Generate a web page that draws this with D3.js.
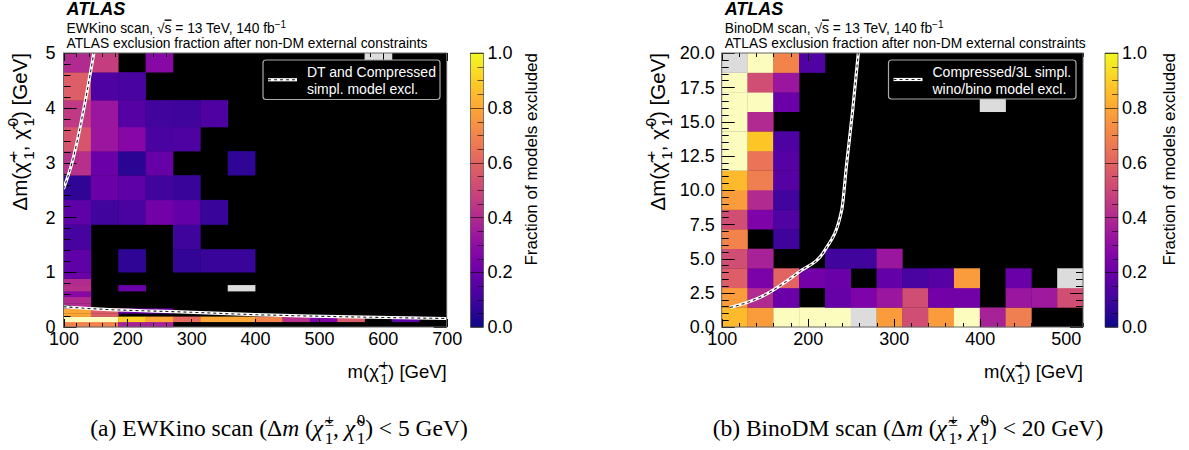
<!DOCTYPE html>
<html><head><meta charset="utf-8">
<script src="https://cdn.jsdelivr.net/npm/d3@7"></script>
<style>
body{margin:0;background:#fff;}
text{font-family:"Liberation Sans",Arial,sans-serif;}
</style></head>
<body>
<script>
// ---------- DATA ----------
const GRAY = -1; // light-grey cells
// Left: EWKino scan
const leftXEdges = [100,142.86,185.71,228.57,271.43,314.29,357.14,400,442.86,485.71,528.57,571.43,614.29,657.14,700];
const leftYEdges = [0,0.095,0.19,0.25,0.34,0.43,0.55,0.655,0.765,0.885,1.0,1.42,1.87,2.32,2.77,3.21,3.65,4.14,4.65,5.0];
// rows from bottom to top, 14 columns; null = no models (black)
const leftValues = [
 [0.70,0.70,0.37,0.37,null,null,null,null,null,null,null,null,null,null],
 [1,1,0.90,0.80,0.62,0.80,0.80,0.70,0.42,0.25,0.57,null,0.17,null],
 [0.80,0.58,null,null,null,null,null,null,null,null,null,null,null,null],
 [0.80,0.58,0.20,0.20,null,null,null,null,null,null,null,null,null,null],
 [0.40,null,null,null,null,null,null,null,null,null,null,null,null,null],
 [0.40,null,null,null,null,null,null,null,null,null,null,null,null,null],
 [0.28,null,null,null,null,null,null,null,null,null,null,null,null,null],
 [0.42,null,0.20,null,null,null,GRAY,null,null,null,null,null,null,null],
 [0.40,null,null,null,null,null,null,null,null,null,null,null,null,null],
 [0.20,null,null,null,null,null,null,null,null,null,null,null,null,null],
 [0.17,null,0.06,null,0.07,0.08,0.08,null,null,null,null,null,null,null],
 [0.11,null,null,null,0.09,null,null,null,null,null,null,null,null,null],
 [0.17,0.10,0.12,0.22,0.18,0.08,null,null,null,null,null,null,null,null],
 [0.06,0.20,0.17,0.10,0.08,null,null,null,null,null,null,null,null,null],
 [0.42,0.20,0.05,0.19,null,null,0.06,null,null,null,null,null,null,null],
 [0.55,0.33,0.27,0.12,0.13,null,null,null,null,null,null,null,null,null],
 [0.45,0.33,0.15,0.10,0.09,0.13,null,null,null,null,null,null,null,null],
 [0.58,0.13,0.12,null,null,null,null,null,null,null,null,null,null,null],
 [0.40,0.47,null,0.28,null,null,null,null,null,null,null,GRAY,null,null]
];
const leftCurveA = [[100,2.52],[113,2.98],[131.3,3.95],[147.5,5.0]];
const leftCurveB = [[100,0.37],[150,0.33],[243,0.29],[272,0.28],[400,0.225],[486,0.2],[700,0.155]];
const leftXTicks = [100,200,300,400,500,600,700];
const leftYTicks = [0,1,2,3,4,5];

// Right: BinoDM scan
const rightXEdges = [100,130,160,190,220,250,280,310,340,370,400,430,460,490,520];
const rightYEdges = [0,1.4286,2.8571,4.2857,5.7143,7.1429,8.5714,10,11.4286,12.8571,14.2857,15.7143,17.1429,18.5714,20];
const rightValues = [
 [0.85,0.77,1,1,1,GRAY,0.77,0.52,0.77,1,0.37,0.68,null,null],
 [0.77,0.40,0.20,null,0.19,0.25,0.33,0.52,0.22,0.22,null,0.33,0.34,0.52],
 [0.58,0.24,0.60,0.22,0.20,null,0.18,0.12,0.15,0.77,null,0.20,null,GRAY],
 [0.52,0.37,null,null,0.10,0.10,0.33,null,null,null,null,null,null,null],
 [0.70,null,0.09,null,null,null,null,null,null,null,null,null,null,null],
 [0.52,0.25,0.14,null,null,null,null,null,null,null,null,null,null,null],
 [0.77,0.40,0.10,null,null,null,null,null,null,null,null,null,null,null],
 [0.85,0.68,0.15,null,null,null,null,null,null,null,null,null,null,null],
 [1,0.65,0.15,null,null,null,null,null,null,null,null,null,null,null],
 [1,0.88,0.13,null,null,null,null,null,null,null,null,null,null,null],
 [1,0.40,null,null,null,null,null,null,null,null,null,null,null,null],
 [1,1,0.20,null,null,null,null,null,null,null,GRAY,null,null,null],
 [1,0.52,0.33,null,null,null,null,null,null,null,null,null,null,null],
 [GRAY,1,0.70,0.14,null,null,null,null,null,null,null,null,null,null]
];
const rightCurve = [[109.7,1.42],[144.5,2.16],[189.9,4.02],[220,5.61],[239.5,8.54],[245.3,11.95],[252.3,15.85],[258.8,20.0]];
const rightXTicks = [100,200,300,400,500];
const rightYTicks = [0,2.5,5,7.5,10,12.5,15,17.5,20];
const cbTicks = [0,0.2,0.4,0.6,0.8,1.0];

// ---------- DRAW ----------
const W=1189,H=450;
const svg=d3.select('body').append('svg').attr('width',W).attr('height',H);
svg.append('rect').attr('width',W).attr('height',H).attr('fill','#fff');
const color=d3.scaleSequential(d3.interpolatePlasma).domain([0,1]);
const PALE='#fcfcbf', GREY='#dcdcdc';
function cellColor(v){ if(v===GRAY) return GREY; if(v>=1) return PALE; return color(v); }

// rich text helper
function rich(text, parts, fs, sc, gap){
  sc = sc||0.72; gap = gap===undefined?1.5:gap;
  let off=0;
  parts.forEach(p=>{
    if(typeof p==='string'){ text.append('tspan').attr('dy',(0-off)+'px').text(p); off=0; return; }
    if(p.it){ text.append('tspan').attr('dy',(0-off)+'px').style('font-style','italic').text(p.it); off=0; return; }
    if(p.sup!==undefined && p.sub!==undefined){
      const o1=-0.42*fs;
      const s1=text.append('tspan').attr('dx',gap+'px').attr('dy',(o1-off)+'px').style('font-size',(sc*fs)+'px').text(p.sup);
      const w1=s1.node().getComputedTextLength();
      const o2=0.32*fs;
      const s2=text.append('tspan').attr('dx',(-w1)+'px').attr('dy',(o2-o1)+'px').style('font-size',(sc*fs)+'px').text(p.sub);
      const w2=s2.node().getComputedTextLength();
      text.append('tspan').attr('dx',(Math.max(w1-w2,0)+gap)+'px').text('');
      off=o2; return;
    }
    if(p.sup!==undefined){ const o=-0.42*fs; text.append('tspan').attr('dy',(o-off)+'px').style('font-size',(sc*fs)+'px').text(p.sup); off=o; return; }
    if(p.sub!==undefined){ const o=0.32*fs; text.append('tspan').attr('dy',(o-off)+'px').style('font-size',(sc*fs)+'px').text(p.sub); off=o; return; }
  });
  return text;
}

function panel(cfg){
  const g=svg.append('g');
  const x=d3.scaleLinear().domain(cfg.xDomain).range([cfg.x0,cfg.x1]);
  const y=d3.scaleLinear().domain(cfg.yDomain).range([cfg.yb,cfg.yt]);
  g.append('rect').attr('x',cfg.x0).attr('y',cfg.yt).attr('width',cfg.x1-cfg.x0).attr('height',cfg.yb-cfg.yt).attr('fill','#000');
  const cells=[];
  cfg.values.forEach((row,j)=>row.forEach((v,i)=>{ if(v!==null) cells.push({i,j,v}); }));
  g.append('g').selectAll('rect').data(cells).join('rect')
   .attr('x',d=>x(cfg.xEdges[d.i])).attr('width',d=>x(cfg.xEdges[d.i+1])-x(cfg.xEdges[d.i])+0.3)
   .attr('y',d=>y(cfg.yEdges[d.j+1])).attr('height',d=>y(cfg.yEdges[d.j])-y(cfg.yEdges[d.j+1])+0.3)
   .attr('fill',d=>cellColor(d.v));
  const tk=g.append('g').attr('stroke','#000').attr('stroke-width',1);
  const xMinor=d3.range(cfg.xDomain[0],cfg.xDomain[1]+0.001,cfg.xMinorStep);
  const yMinor=d3.range(cfg.yDomain[0],cfg.yDomain[1]+0.001,cfg.yMinorStep);
  const isMaj=(v,arr)=>arr.some(a=>Math.abs(a-v)<1e-6);
  xMinor.forEach(v=>{ const L=isMaj(v,cfg.xTicks)?8:4; const px=Math.round(x(v))+0.5;
    tk.append('line').attr('x1',px).attr('x2',px).attr('y1',cfg.yb).attr('y2',cfg.yb-L);
    tk.append('line').attr('x1',px).attr('x2',px).attr('y1',cfg.yt).attr('y2',cfg.yt+L); });
  yMinor.forEach(v=>{ const L=isMaj(v,cfg.yTicks)?13:7; const py=Math.round(y(v))+0.5;
    tk.append('line').attr('y1',py).attr('y2',py).attr('x1',cfg.x0).attr('x2',cfg.x0+L);
    tk.append('line').attr('y1',py).attr('y2',py).attr('x1',cfg.x1).attr('x2',cfg.x1-L); });
  const clipId='clip'+cfg.id;
  svg.append('clipPath').attr('id',clipId).append('rect').attr('x',cfg.x0).attr('y',cfg.yt).attr('width',cfg.x1-cfg.x0).attr('height',cfg.yb-cfg.yt);
  const line=d3.line().x(d=>x(d[0])).y(d=>y(d[1])).curve(d3.curveMonotoneX);
  cfg.curves.forEach(c=>{
    g.append('path').attr('d',line(c)).attr('fill','none').attr('stroke','#fff').attr('stroke-width',3.2).attr('clip-path',`url(#${clipId})`);
    g.append('path').attr('d',line(c)).attr('fill','none').attr('stroke','#222').attr('stroke-width',1.1).attr('stroke-dasharray','3,3').attr('clip-path',`url(#${clipId})`);
  });
  g.append('rect').attr('x',cfg.x0).attr('y',cfg.yt).attr('width',cfg.x1-cfg.x0).attr('height',cfg.yb-cfg.yt).attr('fill','none').attr('stroke','#666').attr('stroke-width',1);
  const ax=g.append('g').attr('transform',`translate(0,${cfg.yb})`).call(d3.axisBottom(x).tickValues(cfg.xTicks).tickSize(0).tickPadding(5).tickFormat(d3.format('d')));
  ax.select('.domain').remove();
  ax.selectAll('text').style('font-size','18px').style('font-family','"Liberation Sans",Arial,sans-serif').attr('fill','#000');
  const ay=g.append('g').attr('transform',`translate(${cfg.x0},0)`).call(d3.axisLeft(y).tickValues(cfg.yTicks).tickSize(0).tickPadding(cfg.yPad).tickFormat(cfg.yFmt));
  ay.select('.domain').remove();
  ay.selectAll('text').style('font-size','18px').style('font-family','"Liberation Sans",Arial,sans-serif').attr('fill','#000');
  const lg=g.append('g');
  lg.append('rect').attr('x',cfg.leg.x).attr('y',cfg.leg.y).attr('width',cfg.leg.w).attr('height',cfg.leg.h).attr('rx',3).attr('fill','#000').attr('stroke','#aaa').attr('stroke-width',1.2);
  const ly=cfg.leg.y+cfg.leg.h/2;
  lg.append('line').attr('x1',cfg.leg.x+5).attr('x2',cfg.leg.x+34).attr('y1',ly).attr('y2',ly).attr('stroke','#fff').attr('stroke-width',3.2);
  lg.append('line').attr('x1',cfg.leg.x+5).attr('x2',cfg.leg.x+34).attr('y1',ly).attr('y2',ly).attr('stroke','#222').attr('stroke-width',1.1).attr('stroke-dasharray','3,3');
  cfg.leg.lines.forEach((s,k)=>lg.append('text').attr('x',cfg.leg.x+44).attr('y',cfg.leg.y+17+k*16.5).attr('fill','#fff').style('font-size','14px').text(s));
  g.append('text').attr('x',cfg.x0+3).attr('y',15).style('font-size','18px').style('font-weight','bold').style('font-style','italic').text('ATLAS');
  const h2=g.append('text').attr('x',cfg.x0+3).attr('y',32.5).style('font-size','13.8px');
  h2.append('tspan').text(cfg.scan+' scan, √');
  h2.append('tspan').style('text-decoration','overline').text('s');
  h2.append('tspan').text(' = 13 TeV, 140 fb');
  h2.append('tspan').attr('dy','-5px').style('font-size','10px').text('−1');
  g.append('text').attr('x',cfg.x0+3).attr('y',48).style('font-size','13.8px').text('ATLAS exclusion fraction after non-DM external constraints');
  const xt=g.append('text').attr('x',cfg.x1).attr('y',378).attr('text-anchor','end').style('font-size','18.5px');
  rich(xt,['m(χ̃',{sup:'+',sub:'1'},') [GeV]'],18.5,0.75);
  const yt=g.append('text').attr('transform',`translate(${cfg.yTitleX},${cfg.yt}) rotate(-90)`).attr('text-anchor','end').style('font-size','20.5px');
  rich(yt,['Δm(χ̃',{sup:'+',sub:'1'},', χ̃',{sup:'0',sub:'1'},') [GeV]'],20.5,0.75,2.5);
  const cb=g.append('g');
  const cy=d3.scaleLinear().domain([0,1]).range([cfg.yb,cfg.yt]);
  const gid='grad'+cfg.id;
  const grad=svg.append('defs').append('linearGradient').attr('id',gid).attr('x1',0).attr('x2',0).attr('y1',1).attr('y2',0);
  d3.range(0,1.0001,0.05).forEach(t=>grad.append('stop').attr('offset',t).attr('stop-color',color(t)));
  cb.append('rect').attr('x',cfg.cbx).attr('y',cfg.yt).attr('width',13).attr('height',cfg.yb-cfg.yt).attr('fill',`url(#${gid})`).attr('stroke','#333').attr('stroke-width',0.6);
  d3.range(0,1.0001,0.05).forEach(t=>{ const maj=cbTicks.some(a=>Math.abs(a-t)<1e-6); const py=Math.round(cy(t))+0.5;
    cb.append('line').attr('x1',cfg.cbx+13).attr('x2',cfg.cbx+13-(maj?13:6)).attr('y1',py).attr('y2',py).attr('stroke','#000').attr('stroke-opacity',0.6).attr('stroke-width',1); });
  const ac=cb.append('g').attr('transform',`translate(${cfg.cbx+13},0)`).call(d3.axisRight(cy).tickValues(cbTicks).tickSize(0).tickPadding(4).tickFormat(d3.format('.1f')));
  ac.select('.domain').remove();
  ac.selectAll('text').style('font-size','18px').style('font-family','"Liberation Sans",Arial,sans-serif').attr('fill','#000');
  cb.append('text').attr('transform',`translate(${cfg.cbTitleX},${cfg.yt}) rotate(-90)`).attr('text-anchor','end').style('font-size','17px').text('Fraction of models excluded');
  const cap=svg.append('text').attr('x',cfg.capX).attr('y',436).attr('text-anchor','middle').style('font-family','"Liberation Serif","Times New Roman",serif').style('font-size','23.5px');
  rich(cap,[cfg.capPre+' (Δ',{it:'m'},' (',{it:'χ̃'},{sup:'±',sub:'1'},', ',{it:'χ̃'},{sup:'0',sub:'1'},') < '+cfg.capPost+' GeV)'],23.5,0.72);
}

panel({id:'L',xDomain:[100,700],yDomain:[0,5],x0:63.5,x1:446.7,yb:327,yt:53,
  xEdges:leftXEdges,yEdges:leftYEdges,values:leftValues,curves:[leftCurveA,leftCurveB],
  xTicks:leftXTicks,yTicks:leftYTicks,xMinorStep:20,yMinorStep:0.2,yPad:8,yFmt:d3.format('d'),
  leg:{x:263,y:60,w:177,h:39.5,lines:['DT and Compressed','simpl. model excl.']},
  scan:'EWKino',yTitleX:27,cbx:470.5,cbTitleX:537,capX:279,capPre:'(a) EWKino scan',capPost:'5'});
panel({id:'R',xDomain:[100,520],yDomain:[0,20],x0:721.7,x1:1083,yb:327,yt:53,
  xEdges:rightXEdges,yEdges:rightYEdges,values:rightValues,curves:[rightCurve],
  xTicks:rightXTicks,yTicks:rightYTicks,xMinorStep:20,yMinorStep:0.5,yPad:7,yFmt:d3.format('.1f'),
  leg:{x:888.5,y:60,w:187.5,h:39,lines:['Compressed/3L simpl.','wino/bino model excl.']},
  scan:'BinoDM',yTitleX:665,cbx:1105,cbTitleX:1175,capX:908,capPre:'(b) BinoDM scan',capPost:'20'});
</script>
</body></html>
